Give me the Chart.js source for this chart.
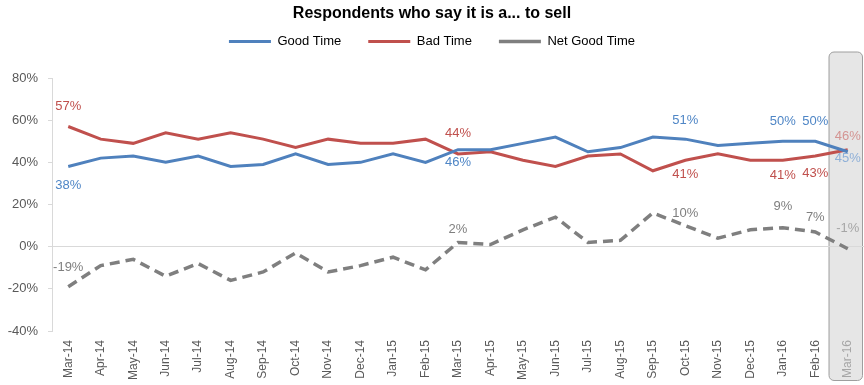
<!DOCTYPE html>
<html>
<head>
<meta charset="utf-8">
<script src="https://cdn.jsdelivr.net/npm/chart.js@4"></script>
<style>
  html, body { margin: 0; padding: 0; background: #fff; }
  #wrap { width: 864px; height: 385px; }
</style>
</head>
<body>
<div id="wrap"><canvas id="sellChart" width="864" height="385"></canvas></div>
<script>
var months = ['Mar-14','Apr-14','May-14','Jun-14','Jul-14','Aug-14','Sep-14','Oct-14','Nov-14','Dec-14','Jan-15','Feb-15',
              'Mar-15','Apr-15','May-15','Jun-15','Jul-15','Aug-15','Sep-15','Oct-15','Nov-15','Dec-15','Jan-16','Feb-16','Mar-16'];
var goodTime = [38,42,43,40,43,38,39,44,39,40,44,40,46,46,49,52,45,47,52,51,48,49,50,50,45];
var badTime  = [57,51,49,54,51,54,51,47,51,49,49,51,44,45,41,38,43,44,36,41,44,41,41,43,46];
var netGood  = [-19,-9,-6,-14,-8,-16,-12,-3,-12,-9,-5,-11,2,1,8,14,2,3,16,10,4,8,9,7,-1];
var yTicks   = [-40,-20,0,20,40,60,80];

// which points get a value label, and how far above(-)/below(+) the point it sits
var goodLabels = [[0,19],[12,13],[19,-19],[22,-20],[23,-20],[24,7]];
var badLabels  = [[0,-20],[12,-20],[19,14],[22,15],[23,17],[24,-13]];
var netLabels  = [[0,-19],[12,-13],[19,-12],[22,-21],[23,-14],[24,-20]];

var labelSets = [
  { ds: 0, list: goodLabels, color: '#4F86C6', faded: '#8FB0D8' },
  { ds: 1, list: badLabels,  color: '#C0504D', faded: '#D49593' },
  { ds: 2, list: netLabels,  color: '#7F7F7F', faded: '#A6A6A6' }
];

var FONT = '"Liberation Sans", Arial, sans-serif';

// legend gets a fixed block height so the plot starts lower down
var legendSpace = {
  id: 'legendSpace',
  afterInit: function(chart) {
    var lg = chart.legend;
    if (!lg) return;
    var fit = lg.fit;
    lg.fit = function() {
      fit.call(this);
      this.height = 70;
    };
  }
};

// shaded box behind the latest month (drawn before axes so its tick label stays on top)
var latestBox = {
  id: 'latestBox',
  beforeDraw: function(chart) {
    var ctx = chart.ctx, x = chart.scales.x, area = chart.chartArea;
    var c = x.getPixelForValue(months.length - 1);
    var half = (x.getPixelForValue(1) - x.getPixelForValue(0)) / 2;
    var left = c - half - 2.5, right = chart.width - 1.5;
    var top = area.top - 26, bottom = chart.height - 4.5;
    ctx.save();
    ctx.beginPath();
    ctx.roundRect(left, top, right - left, bottom - top, 5);
    ctx.fillStyle = '#E6E6E6';
    ctx.fill();
    ctx.strokeStyle = '#9E9E9E';
    ctx.lineWidth = 1;
    ctx.stroke();
    ctx.restore();
  }
};

var valueLabels = {
  id: 'valueLabels',
  afterDatasetsDraw: function(chart) {
    var ctx = chart.ctx;
    ctx.save();
    ctx.font = '13px ' + FONT;
    ctx.textAlign = 'center';
    ctx.textBaseline = 'middle';
    labelSets.forEach(function(set) {
      var meta = chart.getDatasetMeta(set.ds);
      var values = chart.data.datasets[set.ds].data;
      set.list.forEach(function(item) {
        var i = item[0], pt = meta.data[i];
        ctx.fillStyle = (i === months.length - 1) ? set.faded : set.color;
        ctx.fillText(values[i] + '%', pt.x, pt.y + item[1]);
      });
    });
    ctx.restore();
  }
};

var ctx = document.getElementById('sellChart');
var sellChart = new Chart(ctx, {
  type: 'line',
  data: {
    labels: months,
    datasets: [
      { label: 'Good Time', data: goodTime, borderColor: '#4F81BD', backgroundColor: '#4F81BD',
        borderWidth: 3, pointRadius: 0, tension: 0 },
      { label: 'Bad Time', data: badTime, borderColor: '#C0504D', backgroundColor: '#C0504D',
        borderWidth: 3, pointRadius: 0, tension: 0 },
      { label: 'Net Good Time', data: netGood, borderColor: '#7F7F7F', backgroundColor: '#7F7F7F',
        borderWidth: 3.5, borderDash: [10, 6], pointRadius: 0, tension: 0 }
    ]
  },
  options: {
    responsive: false,
    animation: false,
    layout: { padding: 0 },
    plugins: {
      title: {
        display: true,
        text: 'Respondents who say it is a... to sell',
        color: '#000',
        font: { family: FONT, size: 16, weight: 'bold' },
        padding: { top: 4, bottom: -15.2 }
      },
      legend: {
        display: true,
        labels: {
          usePointStyle: true,
          pointStyle: 'line',
          pointStyleWidth: 42,
          boxWidth: 36,
          boxHeight: 13,
          padding: 27,
          color: '#000',
          font: { family: FONT, size: 13 }
        }
      },
      tooltip: { enabled: false }
    },
    scales: {
      x: {
        offset: true,
        grid: { display: false, drawTicks: false },
        border: { display: false },
        ticks: {
          autoSkip: false,
          minRotation: 90,
          maxRotation: 90,
          padding: 9,
          color: function(c) { return c.index === months.length - 1 ? '#A6A6A6' : '#595959'; },
          font: { family: FONT, size: 12 }
        },
        afterFit: function(s) { s.height = 54; s.paddingLeft = 0; s.paddingRight = 0; }
      },
      y: {
        min: -40,
        max: 80,
        afterBuildTicks: function(s) { s.ticks = yTicks.map(function(v) { return { value: v }; }); },
        grid: {
          color: function(c) { return c.tick && c.tick.value === 0 ? '#D9D9D9' : 'rgba(0,0,0,0)'; },
          tickColor: '#D9D9D9',
          tickLength: 4
        },
        border: { display: true, color: '#D9D9D9' },
        ticks: {
          padding: 10,
          color: '#595959',
          font: { family: FONT, size: 13 },
          callback: function(v) { return v + '%'; }
        },
        afterFit: function(s) { s.width = 52; s.paddingTop = 0; s.paddingBottom = 0; }
      }
    }
  },
  plugins: [legendSpace, latestBox, valueLabels]
});
</script>
</body>
</html>
